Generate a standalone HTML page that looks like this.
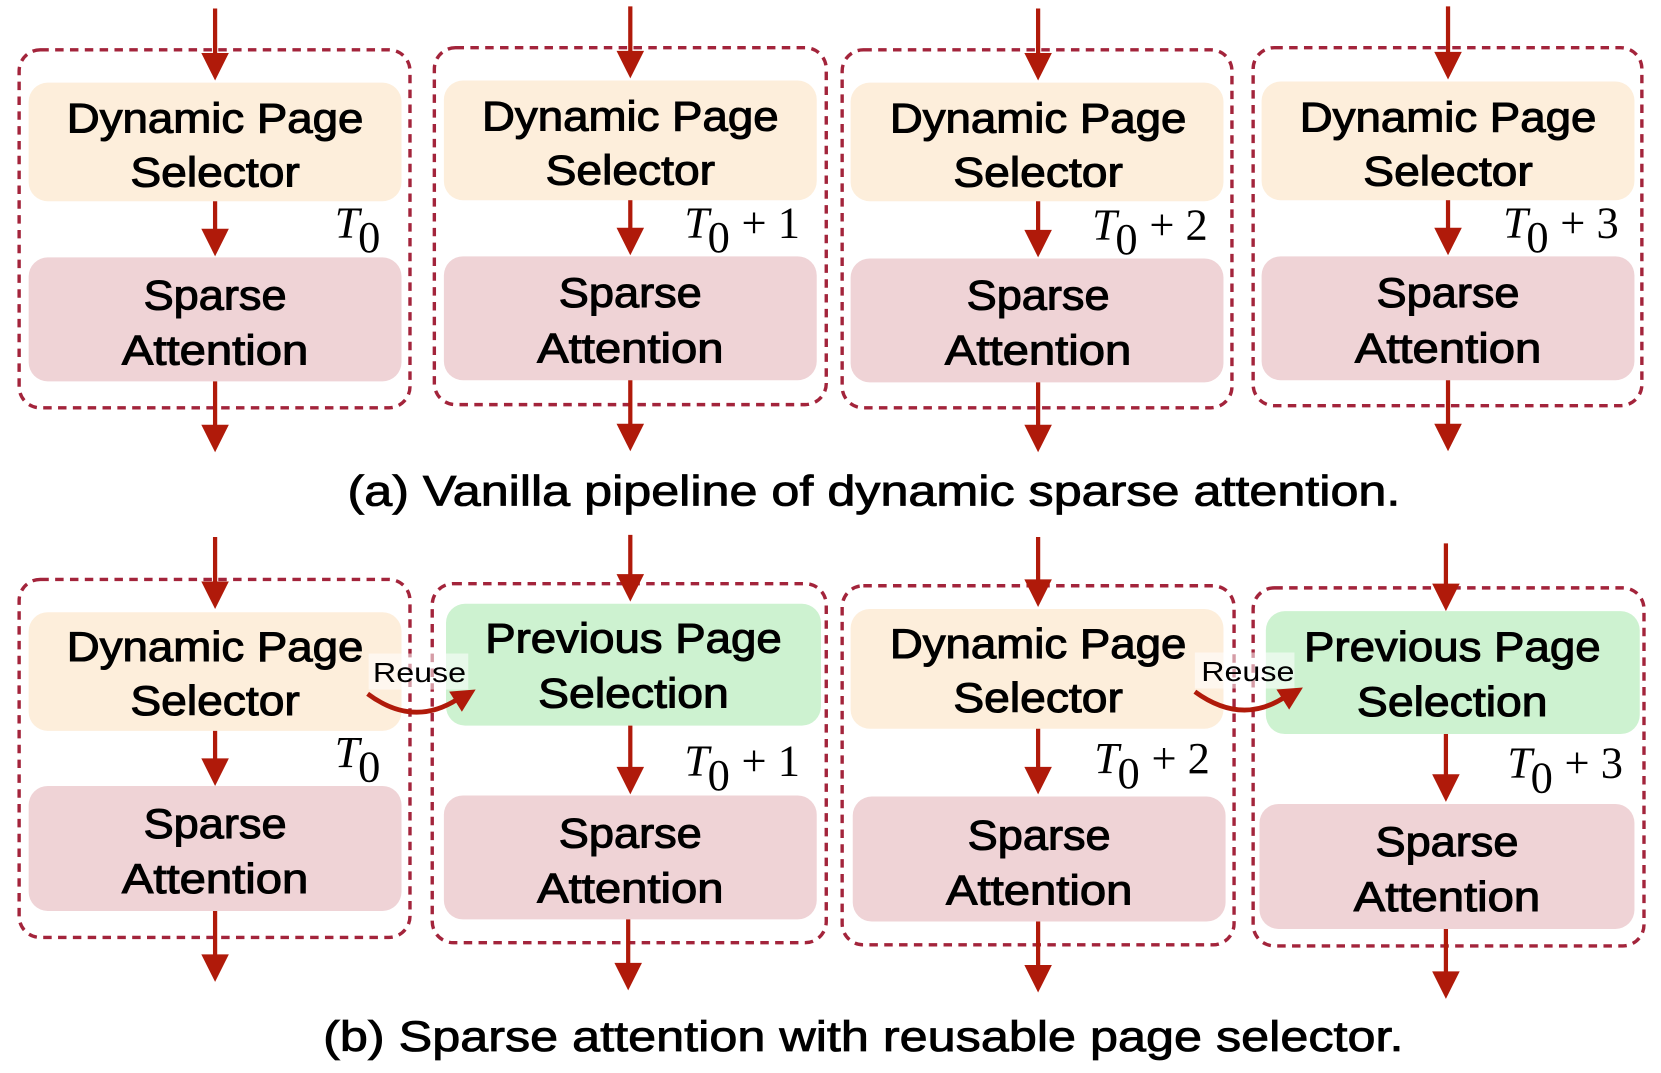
<!DOCTYPE html>
<html><head><meta charset="utf-8"><style>
html,body{margin:0;padding:0;background:#fff;}
svg{display:block;}
text{font-family:"Liberation Sans",Arial,sans-serif;}
.l text{font-size:39px;fill:#000;stroke:#000;stroke-width:1;text-anchor:middle;}
.t text{font-family:"Liberation Serif",serif;font-size:42px;fill:#000;}
.d{fill:none;stroke:#a3243b;stroke-width:3.2;stroke-dasharray:8 6;}
.a line{stroke:#b01a0a;stroke-width:4;}
.a path{fill:#b01a0a;}
.cap{font-size:40px;fill:#000;stroke:#000;stroke-width:0.8;text-anchor:middle;}
</style></head><body>
<svg width="1661" height="1073" viewBox="0 0 1568 1013" xmlns="http://www.w3.org/2000/svg">

<rect class="d" x="18" y="47" width="369" height="338" rx="20"/>
<rect class="d" x="410" y="45" width="370" height="337" rx="20"/>
<rect class="d" x="795" y="47" width="368" height="338" rx="20"/>
<rect class="d" x="1183" y="45" width="367" height="338" rx="20"/>

<rect x="27" y="78" width="352" height="112" rx="18" fill="#fdeedb"/>
<rect x="27" y="243" width="352" height="117" rx="18" fill="#efd3d6"/>
<rect x="419" y="76" width="352" height="113" rx="18" fill="#fdeedb"/>
<rect x="419" y="242" width="352" height="117" rx="18" fill="#efd3d6"/>
<rect x="803" y="78" width="352" height="112" rx="18" fill="#fdeedb"/>
<rect x="803" y="244" width="352" height="117" rx="18" fill="#efd3d6"/>
<rect x="1191" y="77" width="352" height="112" rx="18" fill="#fdeedb"/>
<rect x="1191" y="242" width="352" height="117" rx="18" fill="#efd3d6"/>

<g class="l">
<text x="203" y="125" textLength="280" lengthAdjust="spacingAndGlyphs">Dynamic Page</text><text x="203" y="176" textLength="160" lengthAdjust="spacingAndGlyphs">Selector</text>
<text x="203" y="292" textLength="135" lengthAdjust="spacingAndGlyphs">Sparse</text><text x="203" y="344" textLength="176" lengthAdjust="spacingAndGlyphs">Attention</text>
<text x="595" y="123" textLength="280" lengthAdjust="spacingAndGlyphs">Dynamic Page</text><text x="595" y="174" textLength="160" lengthAdjust="spacingAndGlyphs">Selector</text>
<text x="595" y="290" textLength="135" lengthAdjust="spacingAndGlyphs">Sparse</text><text x="595" y="342" textLength="176" lengthAdjust="spacingAndGlyphs">Attention</text>
<text x="980" y="125" textLength="280" lengthAdjust="spacingAndGlyphs">Dynamic Page</text><text x="980" y="176" textLength="160" lengthAdjust="spacingAndGlyphs">Selector</text>
<text x="980" y="292" textLength="135" lengthAdjust="spacingAndGlyphs">Sparse</text><text x="980" y="344" textLength="176" lengthAdjust="spacingAndGlyphs">Attention</text>
<text x="1367" y="124" textLength="280" lengthAdjust="spacingAndGlyphs">Dynamic Page</text><text x="1367" y="175" textLength="160" lengthAdjust="spacingAndGlyphs">Selector</text>
<text x="1367" y="290" textLength="135" lengthAdjust="spacingAndGlyphs">Sparse</text><text x="1367" y="342" textLength="176" lengthAdjust="spacingAndGlyphs">Attention</text>
</g>

<g class="a">
<line x1="203" y1="8" x2="203" y2="56"/><path d="M190,50 L216,50 L203,76 z"/>
<line x1="203" y1="190" x2="203" y2="222"/><path d="M190,216 L216,216 L203,242 z"/>
<line x1="203" y1="360" x2="203" y2="408"/><path d="M190,401 L216,401 L203,427 z"/>
<line x1="595" y1="6" x2="595" y2="54"/><path d="M582,48 L608,48 L595,74 z"/>
<line x1="595" y1="189" x2="595" y2="221"/><path d="M582,215 L608,215 L595,241 z"/>
<line x1="595" y1="359" x2="595" y2="407"/><path d="M582,400 L608,400 L595,426 z"/>
<line x1="980" y1="8" x2="980" y2="56"/><path d="M967,50 L993,50 L980,76 z"/>
<line x1="980" y1="190" x2="980" y2="223"/><path d="M967,217 L993,217 L980,243 z"/>
<line x1="980" y1="361" x2="980" y2="408"/><path d="M967,401 L993,401 L980,427 z"/>
<line x1="1367" y1="6" x2="1367" y2="55"/><path d="M1354,49 L1380,49 L1367,75 z"/>
<line x1="1367" y1="189" x2="1367" y2="221"/><path d="M1354,215 L1380,215 L1367,241 z"/>
<line x1="1367" y1="359" x2="1367" y2="407"/><path d="M1354,400 L1380,400 L1367,426 z"/>
</g>

<g class="t">
<text x="316" y="224" font-style="italic">T</text><text x="338" y="238" font-size="28">0</text>
<text x="646" y="224" font-style="italic">T</text><text x="668" y="238" font-size="28">0</text><text x="700" y="224">+ 1</text>
<text x="1031" y="226" font-style="italic">T</text><text x="1053" y="240" font-size="28">0</text><text x="1085" y="226">+ 2</text>
<text x="1419" y="224" font-style="italic">T</text><text x="1441" y="238" font-size="28">0</text><text x="1473" y="224">+ 3</text>
</g>

<text class="cap" x="825" y="477" textLength="994" lengthAdjust="spacingAndGlyphs">(a) Vanilla pipeline of dynamic sparse attention.</text>

<rect class="d" x="18" y="547" width="369" height="338" rx="20"/>
<rect class="d" x="408" y="551" width="372" height="339" rx="20"/>
<rect class="d" x="795" y="553" width="370" height="339" rx="20"/>
<rect class="d" x="1183" y="555" width="369" height="338" rx="20"/>

<rect x="27" y="578" width="352" height="112" rx="18" fill="#fdeedb"/>
<rect x="27" y="742" width="352" height="118" rx="18" fill="#efd3d6"/>
<rect x="421" y="570" width="354" height="115" rx="18" fill="#cdf2d0"/>
<rect x="419" y="751" width="352" height="117" rx="18" fill="#efd3d6"/>
<rect x="803" y="575" width="352" height="113" rx="18" fill="#fdeedb"/>
<rect x="805" y="752" width="352" height="118" rx="18" fill="#efd3d6"/>
<rect x="1195" y="577" width="353" height="116" rx="18" fill="#cdf2d0"/>
<rect x="1189" y="759" width="354" height="118" rx="18" fill="#efd3d6"/>

<rect x="348" y="617" width="94" height="34" fill="#fff" opacity="0.55"/>
<rect x="1128" y="616" width="94" height="34" fill="#fff" opacity="0.55"/>

<g class="l">
<text x="203" y="624" textLength="280" lengthAdjust="spacingAndGlyphs">Dynamic Page</text><text x="203" y="675" textLength="160" lengthAdjust="spacingAndGlyphs">Selector</text>
<text x="203" y="791" textLength="135" lengthAdjust="spacingAndGlyphs">Sparse</text><text x="203" y="843" textLength="176" lengthAdjust="spacingAndGlyphs">Attention</text>
<text x="598" y="616" textLength="280" lengthAdjust="spacingAndGlyphs">Previous Page</text><text x="598" y="668" textLength="180" lengthAdjust="spacingAndGlyphs">Selection</text>
<text x="595" y="800" textLength="135" lengthAdjust="spacingAndGlyphs">Sparse</text><text x="595" y="852" textLength="176" lengthAdjust="spacingAndGlyphs">Attention</text>
<text x="980" y="621" textLength="280" lengthAdjust="spacingAndGlyphs">Dynamic Page</text><text x="980" y="672" textLength="160" lengthAdjust="spacingAndGlyphs">Selector</text>
<text x="981" y="802" textLength="135" lengthAdjust="spacingAndGlyphs">Sparse</text><text x="981" y="854" textLength="176" lengthAdjust="spacingAndGlyphs">Attention</text>
<text x="1371" y="624" textLength="280" lengthAdjust="spacingAndGlyphs">Previous Page</text><text x="1371" y="676" textLength="180" lengthAdjust="spacingAndGlyphs">Selection</text>
<text x="1366" y="808" textLength="135" lengthAdjust="spacingAndGlyphs">Sparse</text><text x="1366" y="860" textLength="176" lengthAdjust="spacingAndGlyphs">Attention</text>
</g>

<g class="a">
<line x1="203" y1="507" x2="203" y2="555"/><path d="M190,549 L216,549 L203,575 z"/>
<line x1="203" y1="690" x2="203" y2="722"/><path d="M190,716 L216,716 L203,742 z"/>
<line x1="203" y1="860" x2="203" y2="908"/><path d="M190,901 L216,901 L203,927 z"/>
<line x1="595" y1="505" x2="595" y2="548"/><path d="M582,542 L608,542 L595,568 z"/>
<line x1="595" y1="685" x2="595" y2="730"/><path d="M582,724 L608,724 L595,750 z"/>
<line x1="593" y1="868" x2="593" y2="916"/><path d="M580,909 L606,909 L593,935 z"/>
<line x1="980" y1="507" x2="980" y2="553"/><path d="M967,547 L993,547 L980,573 z"/>
<line x1="980" y1="688" x2="980" y2="730"/><path d="M967,724 L993,724 L980,750 z"/>
<line x1="980" y1="870" x2="980" y2="918"/><path d="M967,911 L993,911 L980,937 z"/>
<line x1="1365" y1="513" x2="1365" y2="557"/><path d="M1352,551 L1378,551 L1365,577 z"/>
<line x1="1365" y1="693" x2="1365" y2="737"/><path d="M1352,731 L1378,731 L1365,757 z"/>
<line x1="1365" y1="877" x2="1365" y2="924"/><path d="M1352,917 L1378,917 L1365,943 z"/>
</g>

<text x="396" y="644" font-size="26" text-anchor="middle" textLength="88" lengthAdjust="spacingAndGlyphs">Reuse</text>
<path d="M347,655 Q390,687 432,660" fill="none" stroke="#b01a0a" stroke-width="4.5"/>
<path d="M449,651 L424,653 L436,672 z" fill="#b01a0a"/>
<text x="1178" y="643" font-size="26" text-anchor="middle" textLength="88" lengthAdjust="spacingAndGlyphs">Reuse</text>
<path d="M1128,653 Q1172,685 1213,658" fill="none" stroke="#b01a0a" stroke-width="4.5"/>
<path d="M1230,649 L1205,651 L1217,670 z" fill="#b01a0a"/>

<g class="t">
<text x="316" y="724" font-style="italic">T</text><text x="338" y="738" font-size="28">0</text>
<text x="646" y="732" font-style="italic">T</text><text x="668" y="746" font-size="28">0</text><text x="700" y="732">+ 1</text>
<text x="1033" y="730" font-style="italic">T</text><text x="1055" y="744" font-size="28">0</text><text x="1087" y="730">+ 2</text>
<text x="1423" y="734" font-style="italic">T</text><text x="1445" y="748" font-size="28">0</text><text x="1477" y="734">+ 3</text>
</g>

<text class="cap" x="815" y="992" textLength="1020" lengthAdjust="spacingAndGlyphs">(b) Sparse attention with reusable page selector.</text>
</svg>
</body></html>
